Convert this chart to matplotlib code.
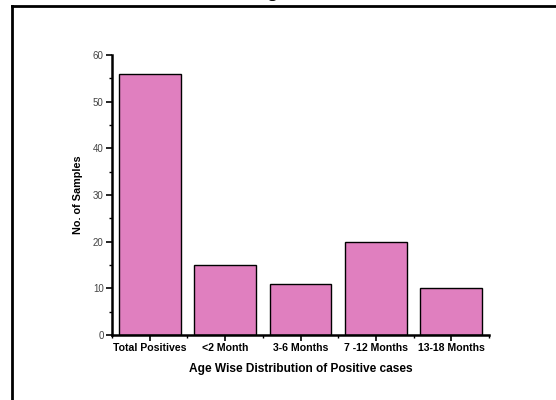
import matplotlib
matplotlib.use("Agg")
import matplotlib.pyplot as plt
from matplotlib.ticker import MultipleLocator, FixedLocator
from matplotlib.lines import Line2D

categories = ["Total Positives", "<2 Month", "3-6 Months", "7 -12 Months", "13-18 Months"]
values = [56, 15, 11, 20, 10]
y_ticks = [0, 10, 20, 30, 40, 50, 60]

plt.rcParams['font.family'] = ['Liberation Sans', 'DejaVu Sans']

fig = plt.figure(figsize=(5.56, 4.0), dpi=100)
ax = fig.add_axes([112/556, 65/400, (489-112)/556, 280/400])

x = list(range(len(categories)))
ax.bar(x, values, width=0.82, color='#E07FBF', edgecolor='black', linewidth=1.0)

ax.set_xlim(-0.5, 4.5)
ax.set_ylim(0, 60)
ax.set_yticks(y_ticks)
ax.yaxis.set_minor_locator(MultipleLocator(5))
ax.set_xticks(x)
ax.set_xticklabels(categories, fontweight='bold', fontsize=7.6)
ax.xaxis.set_minor_locator(FixedLocator([i + 0.5 for i in range(-1, len(categories))]))
ax.tick_params(axis='y', labelsize=7, labelcolor='#444444', direction='out', length=4, width=1.2, pad=2)
ax.tick_params(axis='y', which='minor', direction='out', length=2.5, width=1.0)
ax.tick_params(axis='x', which='major', direction='out', length=4, width=1.2, pad=2)
ax.tick_params(axis='x', which='minor', direction='out', length=2.5, width=1.0)

for s in ['top', 'right']:
    ax.spines[s].set_visible(False)
for s in ['left', 'bottom']:
    ax.spines[s].set_linewidth(1.8)

ax.set_xlabel("Age Wise Distribution of Positive cases", fontweight='bold', fontsize=8.6, labelpad=7)
ax.set_ylabel("No. of Samples", fontweight='bold', fontsize=7.8, labelpad=7)

# outer frame (partially visible)
fig.add_artist(Line2D([12/556, 12/556], [0, 1 - 6/400], transform=fig.transFigure, color='black', linewidth=2))
fig.add_artist(Line2D([12/556, 1.0], [1 - 6/400, 1 - 6/400], transform=fig.transFigure, color='black', linewidth=2))

# clipped title above the image
fig.text(0.5, 1.0 + 3/400, "Figure", ha='center', va='baseline', fontsize=13, fontweight='bold',
         family=['Liberation Serif', 'DejaVu Serif'])

fig.savefig("out.png", dpi=100)
